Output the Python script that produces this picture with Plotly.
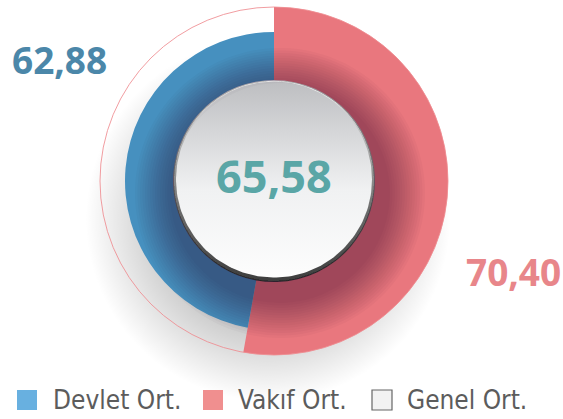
import numpy as np
import plotly.graph_objects as go

# ---- data ----
categories = ["Devlet Ort.", "Vakıf Ort.", "Genel Ort."]
devlet_val = 62.88
vakif_val = 70.40
genel_val = 65.58
slice_labels = ["Vakıf Ort.", "Devlet Ort."]
slice_values = [vakif_val, devlet_val]

# ---- styling / geometry ----
W, H = 563, 419
CX, CY = 274, 181          # pixel centre (from top)
R_OUT, R_BLUE, R_HOLE = 174, 149, 101
RED = "#e9777e"
BLUE = "#4690bf"
CLEAR = "rgba(0,0,0,0)"


def fmt(v):
    return f"{v:.2f}".replace(".", ",")


def dom(r):
    return dict(x=[(CX - r) / W, (CX + r) / W],
                y=[(H - CY - r) / H, (H - CY + r) / H])


def circ(cx, cy, r, n=200):
    t = np.linspace(0, 2 * np.pi, n)
    return cx + r * np.cos(t), (H - cy) + r * np.sin(t)


def circ_path(cx, cy, r, n=160):
    x, y = circ(cx, cy, r, n)
    pts = [f"{a:.2f},{b:.2f}" for a, b in zip(x, y)]
    return "M" + " L".join(pts) + " Z"


fig = go.Figure()

# soft drop shadow under the ring
sx, sy = circ(CX - 6, CY + 38, 192)
fig.add_trace(go.Scatter(
    x=sx, y=sy, mode="lines", line=dict(width=0), fill="toself",
    fillgradient=dict(type="radial",
                      colorscale=[[0, "rgba(0,0,0,0.22)"], [0.6, "rgba(0,0,0,0.19)"],
                                  [0.95, "rgba(0,0,0,0)"], [1, "rgba(0,0,0,0)"]]),
    hoverinfo="skip", showlegend=False))

# centre disc: rim + face
rx, ry = circ(CX, CY, R_HOLE + 1)
fig.add_trace(go.Scatter(
    x=rx, y=ry, mode="lines", line=dict(width=0), fill="toself",
    fillgradient=dict(type="vertical",
                      colorscale=[[0, "#3c3c3c"], [0.35, "#6a6a6a"], [0.7, "#b5b5b5"], [1, "#f4f4f4"]]),
    hoverinfo="skip", showlegend=False))
fx, fy = circ(CX, CY - 1.5, R_HOLE - 3)
fig.add_trace(go.Scatter(
    x=fx, y=fy, mode="lines", line=dict(width=0), fill="toself",
    fillgradient=dict(type="vertical",
                      colorscale=[[0, "#fdfdfd"], [0.45, "#f0f1f2"], [1, "#bdbec1"]]),
    hoverinfo="skip", showlegend=False))

# ring slices
fig.add_trace(go.Pie(
    labels=slice_labels, values=slice_values, sort=False, direction="clockwise",
    rotation=0, hole=R_HOLE / R_OUT, domain=dom(R_OUT),
    marker=dict(colors=[RED, CLEAR], line=dict(width=0)),
    textinfo="none", hoverinfo="label+value", showlegend=False))
fig.add_trace(go.Pie(
    labels=slice_labels, values=slice_values, sort=False, direction="clockwise",
    rotation=0, hole=R_HOLE / R_BLUE, domain=dom(R_BLUE),
    marker=dict(colors=[CLEAR, BLUE], line=dict(width=0)),
    textinfo="none", hoverinfo="label+value", showlegend=False))

shapes = []
# soft shadow cast by the centre disc onto the ring
inner = circ_path(CX, CY, R_HOLE - 1)
for r in np.arange(110, 146, 2.5):
    shapes.append(dict(type="path", xref="x", yref="y",
                       path=circ_path(CX + 6, CY + 12, r) + " " + inner,
                       fillrule="evenodd", fillcolor="rgba(40,10,25,0.026)",
                       line=dict(width=0), layer="above"))
# thin outline circle
shapes.append(dict(type="circle", xref="paper", yref="paper",
                   x0=(CX - R_OUT) / W, x1=(CX + R_OUT) / W,
                   y0=(H - CY - R_OUT) / H, y1=(H - CY + R_OUT) / H,
                   line=dict(color="rgba(238,140,145,0.85)", width=1), layer="above"))

annotations = []
num_font = "Open Sans"
annotations.append(dict(x=59 / W, y=(H - 60) / H, xref="paper", yref="paper",
                        xanchor="center", yanchor="middle",
                        text=f"<b>{fmt(devlet_val)}</b>", showarrow=False,
                        font=dict(family=num_font, size=37, color="#4b87a9")))
annotations.append(dict(x=513 / W, y=(H - 271) / H, xref="paper", yref="paper",
                        xanchor="center", yanchor="middle",
                        text=f"<b>{fmt(vakif_val)}</b>", showarrow=False,
                        font=dict(family=num_font, size=37, color="#e8868a")))
annotations.append(dict(x=CX / W, y=(H - 176) / H, xref="paper", yref="paper",
                        xanchor="center", yanchor="middle",
                        text=f"<b>{fmt(genel_val)}</b>", showarrow=False,
                        font=dict(family=num_font, size=45, color="#5aa6a6")))

# legend
leg_sq = [(17, "#68b0e0", "#68b0e0"), (203, "#f08f8f", "#f08f8f"), (372, "#f2f2f2", "#666666")]
leg_tx = [51, 236, 405]
LY = 400
for (x0, fill, edge), tx, name in zip(leg_sq, leg_tx, categories):
    shapes.append(dict(type="rect", xref="paper", yref="paper",
                       x0=x0 / W, x1=(x0 + 20) / W, y0=(H - LY - 10) / H, y1=(H - LY + 10) / H,
                       fillcolor=fill, line=dict(color=edge, width=1.2 if edge != fill else 0)))
    annotations.append(dict(x=tx / W, y=(H - LY) / H, xref="paper", yref="paper",
                            xanchor="left", yanchor="middle", text=name, showarrow=False,
                            font=dict(family="DejaVu Sans Condensed", size=26,
                                      color="#5c5c5c")))

fig.update_layout(
    width=W, height=H, margin=dict(l=0, r=0, t=0, b=0),
    paper_bgcolor="white", plot_bgcolor="rgba(0,0,0,0)",
    xaxis=dict(range=[0, W], visible=False, fixedrange=True),
    yaxis=dict(range=[0, H], visible=False, fixedrange=True),
    shapes=shapes, annotations=annotations, showlegend=False)

fig.write_html("out.html")
